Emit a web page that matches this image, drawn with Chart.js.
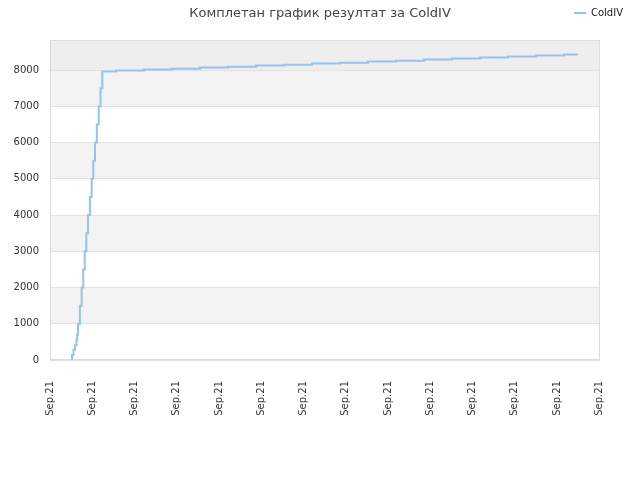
<!DOCTYPE html>
<html><head><meta charset="utf-8">
<script src="https://cdn.jsdelivr.net/npm/chart.js@4"></script>
<style>html,body{margin:0;padding:0;background:#fff}#wrap{width:640px;height:480px}</style>
</head><body><div id="wrap"><canvas id="c" width="640" height="480"></canvas></div>
<script>
const chartTitle = 'Комплетан график резултат за ColdIV';
const seriesName = 'ColdIV';
const xTickLabel = 'Sep.21';
const xMin = 0;
const xMax = 13.02;
const yMax = 8830;
const yTickValues = [0, 1000, 2000, 3000, 4000, 5000, 6000, 7000, 8000];
// time positions (in tick units) of the recorded points
const timePoints = [0.497, 0.521, 0.556, 0.592, 0.627, 0.644, 0.663, 0.708, 0.750, 0.786, 0.822,
  0.859, 0.900, 0.945, 0.987, 1.025, 1.065, 1.108, 1.153, 1.196, 1.238,
  1.563, 2.225, 2.888, 3.551, 4.214, 4.877, 5.540, 6.203, 6.866, 7.528, 8.191,
  8.854, 9.517, 10.180, 10.843, 11.506, 12.169, 12.500];
const scoreValues = [0, 140, 280, 410, 550, 700, 1000, 1500, 2000, 2500, 3000,
  3500, 4000, 4500, 5000, 5500, 6000, 6500, 7000, 7500, 7960,
  7985, 8015, 8040, 8070, 8095, 8125, 8150, 8180, 8205, 8235, 8260,
  8290, 8320, 8345, 8375, 8400, 8430, 8430];

const lineColor = '#93c3f1';
const FONT = 'DejaVu Sans';

const bandsPlugin = {
  id: 'bands',
  beforeDraw(chart) {
    const {ctx, chartArea: a, scales: {y}} = chart;
    ctx.save();
    ctx.fillStyle = '#ffffff';
    ctx.fillRect(0, 0, chart.width, chart.height);
    const vals = y.ticks.map(t => t.value);
    for (let i = 0; i < vals.length; i++) {
      const lo = vals[i];
      const hi = i + 1 < vals.length ? vals[i + 1] : y.max;
      if (hi <= lo) continue;
      let col;
      if (i === vals.length - 1) col = '#eeeeee';
      else col = (i % 2 === 1) ? '#f3f3f3' : '#ffffff';
      const top = y.getPixelForValue(hi);
      const bot = y.getPixelForValue(lo);
      ctx.fillStyle = col;
      ctx.fillRect(a.left, top, a.right - a.left, bot - top);
    }
    ctx.restore();
  },
  beforeDatasetsDraw(chart) {
    const {ctx, chartArea: a} = chart;
    ctx.save();
    ctx.strokeStyle = '#dcdcdc';
    ctx.lineWidth = 1;
    ctx.strokeRect(Math.round(a.left) + 0.5, Math.round(a.top) + 0.5,
      Math.round(a.right - a.left) - 1, Math.round(a.bottom - a.top) - 1);
    ctx.restore();
  },
  afterLayout(chart) {
    if (chart.titleBlock) { chart.titleBlock.left = 0; chart.titleBlock.right = chart.width; }
    if (chart.legend) {
      const lg = chart.legend;
      const h = lg.height;
      lg.top = 8; lg.bottom = 8 + h;
      lg.left = 0; lg.right = 623; lg.width = 623;
    }
  }
};

new Chart(document.getElementById('c'), {
  type: 'line',
  data: {
    datasets: [{
      label: seriesName,
      data: timePoints.map((t, i) => ({x: t, y: scoreValues[i]})),
      borderColor: lineColor,
      backgroundColor: lineColor,
      borderWidth: 2,
      pointRadius: 0,
      stepped: true,
      fill: false
    }]
  },
  options: {
    responsive: false,
    animation: false,
    devicePixelRatio: 1,
    layout: {padding: {top: 1, right: 40, left: 0, bottom: 0}},
    plugins: {
      title: {
        display: true, text: chartTitle, color: '#444',
        font: {family: FONT, size: 13, weight: 'normal', lineHeight: 1.0},
        padding: {top: 6, bottom: 0}
      },
      legend: {
        display: true, position: 'top', align: 'end',
        labels: {
          color: '#222', font: {family: FONT, size: 10},
          boxWidth: 12, boxHeight: 0, padding: 0
        }
      },
      tooltip: {enabled: false}
    },
    scales: {
      x: {
        type: 'linear', min: xMin, max: xMax,
        afterFit(s) { s.height = 120; },
        grid: {display: false},
        border: {display: false},
        ticks: {
          stepSize: 1, includeBounds: false, autoSkip: false,
          maxRotation: 90, minRotation: 90, padding: 13,
          color: '#333', font: {family: FONT, size: 10},
          callback: () => xTickLabel
        }
      },
      y: {
        min: 0, max: yMax,
        afterFit(s) { s.width = 50; },
        afterBuildTicks(s) { s.ticks = yTickValues.map(v => ({value: v})); },
        grid: {color: '#e2e2e2', drawTicks: false},
        border: {display: false},
        ticks: {
          padding: 11, color: '#333', font: {family: FONT, size: 10},
          callback: v => String(v)
        }
      }
    }
  },
  plugins: [bandsPlugin]
});
</script></body></html>
